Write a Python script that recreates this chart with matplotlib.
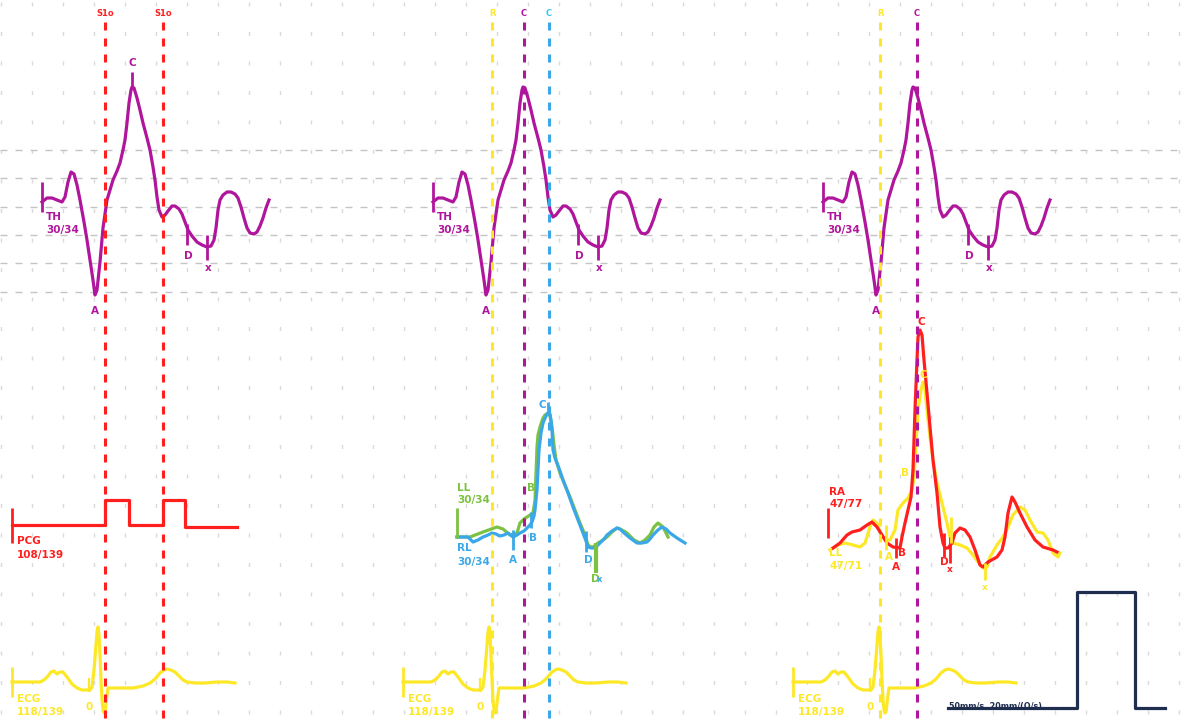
import numpy as np
import matplotlib
matplotlib.use("Agg")
import matplotlib.pyplot as plt

plt.rcParams['lines.scale_dashes'] = False
plt.rcParams['font.family'] = ['DejaVu Sans']

# ---------------- colours ----------------
MAG = '#b0169c'
RED = '#ff1f1f'
YEL = '#fde827'
GRN = '#7cc242'
BLU = '#3aa8e8'
CYA = '#35c8ee'
NAVY = '#1f2d4f'

# ---------------- data (panel-1 coordinates) ----------------
th_x = [42, 47, 52, 57, 62, 65, 68, 71, 74, 77, 80, 84, 87, 90, 93, 95, 97, 100, 103, 107, 110, 113, 117,
        120, 123, 125, 127, 129, 131, 132, 134, 137, 140, 143, 147, 150, 153, 155, 157, 159, 162, 165, 168,
        172, 175, 179, 182, 185, 188, 192, 197, 202, 207, 211, 214, 216, 218, 220, 223, 227, 231, 235, 238,
        241, 244, 247, 250, 254, 257, 260, 263, 266, 269]
th_y = [202, 198, 198, 200, 202, 197, 182, 172, 174, 185, 200, 222, 240, 260, 280, 295, 290, 262, 228, 200,
        190, 180, 171, 163, 150, 140, 123, 103, 90, 87, 88, 98, 110, 123, 138, 150, 167, 180, 197, 210, 217,
        215, 211, 206, 206, 209, 214, 222, 230, 236, 242, 245, 247, 246, 240, 228, 210, 200, 195, 192, 192,
        194, 198, 207, 218, 228, 233, 234, 232, 226, 218, 208, 200]

ecg_x = [12, 25, 40, 44, 48, 51, 54, 57, 60, 63, 67, 72, 77, 82, 87, 90, 92, 94, 96, 97, 98, 99, 100, 101,
         102, 103, 104, 105, 106, 107, 108, 118, 133, 143, 150, 155, 160, 164, 167, 171, 175, 179, 183, 187,
         195, 205, 217, 227, 235]
ecg_y = [682, 682, 682, 680, 676, 672, 671, 674, 672, 672, 677, 684, 688, 690, 690, 690, 687, 670, 645, 632,
         627, 635, 655, 680, 700, 710, 713, 712, 703, 695, 688, 688, 688, 686, 683, 679, 673, 670, 669, 670,
         672, 676, 680, 682, 683, 683, 682, 682, 683]

pcg_x = [12, 105, 105, 129, 129, 163, 163, 185, 185, 237]
pcg_y = [525, 525, 500, 500, 525, 525, 500, 500, 527, 527]

ll_x = [457, 470, 483, 497, 503, 510, 517, 520, 524, 527, 530, 533, 535, 536, 537, 538, 540, 543, 545, 548,
        550, 552, 554, 556, 560, 565, 570, 575, 580, 585, 588, 591, 593, 598, 603, 607, 612, 617, 622, 627,
        634, 640, 645, 650, 654, 658, 663, 668]
ll_y = [537, 537, 532, 527, 529, 535, 533, 523, 519, 517, 515, 513, 500, 473, 447, 435, 427, 418, 415, 413,
        416, 427, 445, 460, 473, 485, 497, 510, 523, 535, 545, 547, 547, 543, 540, 537, 532, 528, 530, 533,
        540, 543, 540, 535, 527, 523, 527, 537]

rl_x = [457, 463, 468, 473, 478, 483, 488, 492, 496, 500, 504, 508, 513, 517, 520, 524, 527, 530, 532, 534,
        535, 536, 537, 538, 539, 541, 543, 546, 548, 550, 551, 552, 553, 555, 557, 560, 563, 568, 573, 578,
        583, 586, 588, 591, 593, 597, 600, 604, 607, 612, 617, 620, 623, 630, 637, 642, 647, 650, 653, 658,
        662, 666, 670, 677, 685]
rl_y = [537, 537, 537, 542, 540, 537, 535, 533, 534, 536, 535, 533, 537, 535, 533, 531, 528, 525, 522, 516,
        510, 500, 490, 470, 450, 433, 423, 416, 413, 414, 420, 430, 450, 458, 463, 471, 480, 493, 507, 520,
        533, 541, 547, 548, 548, 546, 543, 539, 535, 531, 528, 529, 532, 538, 543, 543, 542, 539, 535, 530,
        527, 529, 533, 538, 543]

ra_x = [833, 840, 847, 852, 860, 867, 872, 877, 882, 887, 893, 900, 902, 905, 908, 911, 913, 915, 917, 918,
        920, 922, 924, 927, 930, 933, 937, 940, 943, 945, 948, 952, 955, 960, 965, 970, 975, 980, 983, 988,
        997, 1002, 1005, 1008, 1012, 1015, 1020, 1027, 1035, 1043, 1053, 1057]
ra_y = [548, 543, 535, 532, 530, 525, 522, 527, 535, 543, 547, 548, 537, 523, 510, 497, 470, 410, 360, 337,
        330, 335, 360, 393, 427, 460, 493, 527, 543, 548, 548, 543, 533, 528, 530, 537, 550, 565, 567, 562,
        557, 550, 537, 513, 497, 502, 513, 527, 540, 547, 550, 552]

la_x = [830, 838, 845, 853, 860, 865, 870, 873, 877, 880, 885, 890, 895, 898, 903, 908, 912, 914, 916, 918,
        921, 923, 925, 927, 930, 933, 937, 942, 947, 950, 953, 960, 967, 973, 978, 983, 987, 990, 997, 1003,
        1008, 1013, 1020, 1025, 1030, 1037, 1043, 1048, 1053, 1058, 1060]
la_y = [550, 545, 543, 545, 547, 543, 527, 520, 523, 532, 540, 540, 530, 510, 503, 498, 490, 477, 443, 410,
        390, 382, 390, 410, 437, 460, 483, 503, 523, 537, 543, 545, 548, 555, 562, 568, 567, 557, 545, 537,
        527, 515, 507, 510, 520, 532, 533, 540, 553, 557, 553]

cal_x = [948, 1077, 1077, 1135, 1135, 1165]
cal_y = [708, 708, 592, 592, 708, 708]

panel_offsets = [0, 391, 781]
hgrid_y = [150, 178, 207, 235, 263, 292]

# marker (vertical dashed) lines: x, colour, label
marker_x = [105, 163, 492, 524, 549, 880, 917]
marker_lbl = ['S1o', 'S1o', 'R', 'C', 'C', 'R', 'C']
marker_col = [RED, RED, YEL, MAG, BLU, YEL, MAG]
marker_lblcol = [RED, RED, YEL, MAG, CYA, YEL, MAG]

# ---------------- figure ----------------
fig = plt.figure(figsize=(11.84, 7.21), dpi=100)
ax = fig.add_axes([0, 0, 1, 1])
ax.set_xlim(0, 1184)
ax.set_ylim(721, 0)
ax.axis('off')

PX = 72 / 100.0  # points per pixel

# background grid
for gx in np.arange(1, 1184, 31):
    ax.plot([gx, gx], [2, 721], color='#dadada', lw=1.0, ls=(0, (4 * PX, 25.5 * PX)), zorder=0)
for gy in hgrid_y:
    ax.plot([0, 1184], [gy, gy], color='#c4c4c4', lw=1.0, ls=(0, (7 * PX, 8 * PX)), zorder=0)

FS = 7.5
def label(x, y, s, c, fs=FS, ha='left'):
    ax.text(x, y, s, color=c, fontsize=fs, fontweight='bold', ha=ha, va='center', zorder=6)

def tick(x, y0, y1, c, lw=2.0):
    ax.plot([x, x], [y0, y1], color=c, lw=lw, solid_capstyle='butt', zorder=5)

LW = 2.3
# TH + ECG in every panel
for off in panel_offsets:
    ax.plot(np.array(th_x) + off, th_y, color=MAG, lw=LW, zorder=3, solid_joinstyle='round')
    tick(42 + off, 182, 212, MAG)
    label(46 + off, 217, 'TH', MAG)
    label(46 + off, 230, '30/34', MAG)
    label(95 + off, 311, 'A', MAG, ha='center')
    tick(187 + off, 224, 245, MAG)
    label(188 + off, 256, 'D', MAG, ha='center')
    tick(207 + off, 235, 260, MAG)
    label(208 + off, 268, 'x', MAG, ha='center')

    ax.plot(np.array(ecg_x) + off, ecg_y, color=YEL, lw=LW, zorder=3, solid_joinstyle='round')
    tick(12 + off, 667, 697, YEL)
    tick(89 + off, 678, 692, YEL, lw=1.6)
    label(89 + off, 707, '0', YEL, ha='center')
    label(17 + off, 699, 'ECG', YEL)
    label(17 + off, 712, '118/139', YEL)

# panel-1 C tick
tick(132, 72, 88, MAG)
label(132, 63, 'C', MAG, ha='center')

# PCG
ax.plot(pcg_x, pcg_y, color=RED, lw=LW, zorder=3)
tick(12, 508, 543, RED)
label(17, 541, 'PCG', RED)
label(17, 555, '108/139', RED)

# LL / RL
ax.plot(ll_x, ll_y, color=GRN, lw=LW, zorder=3, solid_joinstyle='round')
ax.plot(rl_x, rl_y, color=BLU, lw=LW, zorder=4, solid_joinstyle='round')
tick(457, 508, 538, GRN)
label(457, 488, 'LL', GRN)
label(457, 500, '30/34', GRN)
label(457, 548, 'RL', BLU)
label(457, 562, '30/34', BLU)
tick(513, 530, 550, BLU)
label(513, 560, 'A', BLU, ha='center')
tick(531, 512, 528, BLU)
label(533, 538, 'B', BLU, ha='center')
label(531, 488, 'B', GRN, ha='center')
tick(548, 402, 415, BLU)
label(542, 405, 'C', BLU, ha='center')
tick(586, 531, 552, BLU)
label(588, 560, 'D', BLU, ha='center')
tick(596, 543, 573, GRN, lw=3)
label(595, 579, 'D', GRN, ha='center')
label(600, 579, 'x', BLU, ha='center', fs=6)

# RA / LA
ax.plot(la_x, la_y, color=YEL, lw=LW, zorder=3, solid_joinstyle='round')
ax.plot(ra_x, ra_y, color=RED, lw=LW, zorder=4, solid_joinstyle='round')
tick(828, 508, 538, RED)
label(829, 492, 'RA', RED)
label(829, 504, '47/77', RED)
label(829, 553, 'LL', YEL)
label(829, 566, '47/71', YEL)
tick(896, 538, 558, RED)
label(896, 567, 'A', RED, ha='center')
label(902, 553, 'B', RED, ha='center')
label(921, 322, 'C', RED, ha='center')
tick(944, 533, 557, RED)
label(944, 562, 'D', RED, ha='center')
tick(950, 537, 563, RED)
label(950, 570, 'x', RED, ha='center', fs=6.5)
tick(886, 525, 550, YEL)
label(889, 557, 'A', YEL, ha='center')
label(905, 473, 'B', YEL, ha='center')
label(923, 375, 'C', YEL, ha='center')
tick(951, 517, 543, YEL)
tick(985, 563, 580, YEL)
label(985, 587, 'x', YEL, ha='center', fs=6.5)

# vertical dashed markers
for mx, ml, mc, mlc in zip(marker_x, marker_lbl, marker_col, marker_lblcol):
    ax.plot([mx, mx], [22, 720], color=mc, lw=2.2, ls=(0, (8 * PX, 8 * PX)), zorder=5)
    ax.text(mx, 13, ml, color=mlc, fontsize=6, fontweight='bold', ha='center', va='center', zorder=6)

# calibration
ax.plot(cal_x, cal_y, color=NAVY, lw=2.3, zorder=3)
ax.text(1042, 706, '50mm/s  20mm/(\u03a9/s)', color=NAVY, fontsize=5.8, fontweight='bold',
        ha='right', va='center', zorder=6)

fig.savefig('out.png', dpi=100, facecolor='white')
